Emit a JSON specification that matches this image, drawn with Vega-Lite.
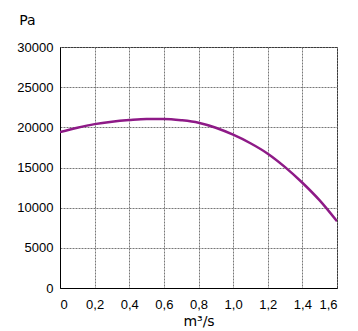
{
  "$schema": "https://vega.github.io/schema/vega-lite/v6.json",
  "width": 277,
  "height": 241,
  "autosize": {"type": "none"},
  "padding": {"left": 60, "top": 47, "right": 21, "bottom": 43},
  "background": "white",
  "config": {
    "view": {"stroke": "black", "strokeWidth": 1},
    "font": "Liberation Sans"
  },
  "data": {
    "values": [
      {"q": 0.0, "p": 19400},
      {"q": 0.1, "p": 19950},
      {"q": 0.2, "p": 20400},
      {"q": 0.3, "p": 20700},
      {"q": 0.4, "p": 20900},
      {"q": 0.5, "p": 21030},
      {"q": 0.6, "p": 21030},
      {"q": 0.7, "p": 20880},
      {"q": 0.8, "p": 20580},
      {"q": 0.9, "p": 19950},
      {"q": 1.0, "p": 19080},
      {"q": 1.1, "p": 18020},
      {"q": 1.2, "p": 16720},
      {"q": 1.3, "p": 15050},
      {"q": 1.4, "p": 13100},
      {"q": 1.5, "p": 10900},
      {"q": 1.6, "p": 8300}
    ]
  },
  "mark": {"type": "line", "color": "#8E1A87", "strokeWidth": 2.5, "interpolate": "monotone", "clip": true},
  "encoding": {
    "x": {
      "field": "q", "type": "quantitative",
      "scale": {"domain": [0, 1.6], "nice": false, "zero": false},
      "axis": {
        "values": [0, 0.2, 0.4, 0.6, 0.8, 1.0, 1.2, 1.4, 1.6],
        "labelExpr": "datum.value == 0 ? '0' : replace(format(datum.value, '.1f'), '.', ',')",
        "title": "m³/s",
        "titleFont": "DejaVu Sans",
        "titleFontSize": 14,
        "titleFontWeight": "normal",
        "titleColor": "black",
        "titlePadding": 3,
        "labelFontSize": 13,
        "labelColor": "black",
        "labelPadding": 10,
        "ticks": false,
        "domainColor": "black",
        "grid": true,
        "gridColor": "#777",
        "gridDash": [2, 1],
        "gridWidth": 1
      }
    },
    "y": {
      "field": "p", "type": "quantitative",
      "scale": {"domain": [0, 30000], "nice": false},
      "axis": {
        "values": [0, 5000, 10000, 15000, 20000, 25000, 30000],
        "format": "d",
        "title": "Pa",
        "titleAngle": 0,
        "titleFont": "DejaVu Sans",
        "titleFontSize": 14,
        "titleFontWeight": "normal",
        "titleColor": "black",
        "titleAlign": "center",
        "titleBaseline": "middle",
        "titleX": -33,
        "titleY": -27,
        "labelFontSize": 13,
        "labelColor": "black",
        "labelPadding": 7,
        "ticks": false,
        "domainColor": "black",
        "grid": true,
        "gridColor": "#777",
        "gridDash": [2, 1],
        "gridWidth": 1
      }
    }
  }
}
